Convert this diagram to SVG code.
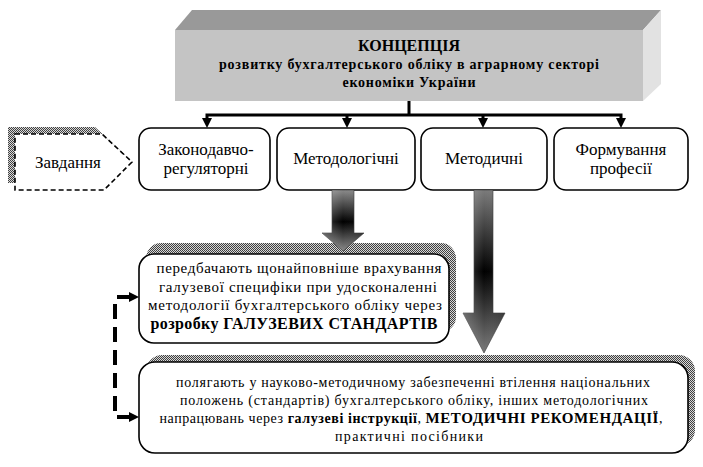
<svg xmlns="http://www.w3.org/2000/svg" width="703" height="467" viewBox="0 0 703 467">
<style>
text{font-family:'Liberation Serif','DejaVu Serif','Times New Roman',serif;fill:#000;text-anchor:middle}
.b{font-weight:bold}
.box{fill:#fff;stroke:#000;stroke-width:1.6}
.lbl{font-size:17px}
.t5{font-size:15px}
.t6{font-size:14px}
.conn{fill:none;stroke:#000;stroke-width:3}
.ah{fill:#000}
</style>
<defs>
<pattern id="hatch" patternUnits="userSpaceOnUse" width="2" height="2">
<rect width="2" height="2" fill="#d8d8d8"/>
<rect width="1" height="1" fill="#404040"/>
<rect x="1" y="1" width="1" height="1" fill="#404040"/>
</pattern>
<linearGradient id="g1" gradientUnits="userSpaceOnUse" x1="0" y1="190" x2="0" y2="251">
<stop offset="0" stop-color="#8a8a8a"/>
<stop offset="0.52" stop-color="#000"/>
<stop offset="1" stop-color="#8a8a8a"/>
</linearGradient>
<linearGradient id="g2" gradientUnits="userSpaceOnUse" x1="0" y1="190" x2="0" y2="353">
<stop offset="0" stop-color="#7a7a7a"/>
<stop offset="0.5" stop-color="#000"/>
<stop offset="1" stop-color="#7a7a7a"/>
</linearGradient>
<linearGradient id="gs" x1="0" y1="0" x2="1" y2="0">
<stop offset="0" stop-color="#fff" stop-opacity="0.25"/>
<stop offset="0.5" stop-color="#fff" stop-opacity="0"/>
<stop offset="1" stop-color="#000" stop-opacity="0.1"/>
</linearGradient>
</defs>

<g id="concept">
<polygon points="175,30 192,10 661,10 643,30" fill="#999999"/>
<polygon points="643,30 661,10 661,84 643,101" fill="#e2e2e2"/>
<rect x="175" y="30" width="468" height="71" fill="#c4c4c4"/>
<text x="409" y="51" class="b" font-size="16">КОНЦЕПЦІЯ</text>
<text x="409" y="69" class="b" font-size="14" textLength="380" lengthAdjust="spacing">розвитку бухгалтерського обліку в аграрному секторі</text>
<text x="409" y="87" class="b" font-size="14" textLength="133" lengthAdjust="spacing">економіки України</text>
</g>

<g id="zavdannya">
<polygon points="8,127 95,127 125,155 97,183 8,183" fill="url(#hatch)"/>
<polygon points="15,134 102,134 132,162 104,190 15,190" fill="#fff" stroke="#000" stroke-width="1.6" stroke-dasharray="5,3"/>
<text x="68" y="168" class="lbl">Завдання</text>
</g>

<g id="n1">
<rect x="139" y="128" width="131" height="62" rx="12" class="box"/>
<text x="206" y="155" class="lbl">Законодавчо-</text>
<text x="206" y="174" class="lbl">регуляторні</text>
</g>
<g id="n2">
<rect x="277" y="128" width="138" height="62" rx="12" class="box"/>
<text x="346" y="164" class="lbl">Методологічні</text>
</g>
<g id="n3">
<rect x="421" y="128" width="126" height="62" rx="12" class="box"/>
<text x="484" y="164" class="lbl">Методичні</text>
</g>
<g id="n4">
<rect x="554" y="128" width="134" height="62" rx="12" class="box"/>
<text x="621" y="155" class="lbl">Формування</text>
<text x="621" y="174" class="lbl">професії</text>
</g>

<g id="n5">
<rect x="146" y="243" width="310" height="89" rx="15" fill="url(#hatch)"/>
<rect x="139" y="254" width="310" height="89" rx="15" class="box"/>
<text x="299" y="273" class="t5" textLength="285" lengthAdjust="spacing">передбачають щонайповніше врахування</text>
<text x="298" y="292" class="t5" textLength="278" lengthAdjust="spacing">галузевої специфіки при удосконаленні</text>
<text x="295" y="310" class="t5" textLength="294" lengthAdjust="spacing">методології бухгалтерського обліку через</text>
<text x="294" y="329" class="b" font-size="16" textLength="287" lengthAdjust="spacing">розробку ГАЛУЗЕВИХ СТАНДАРТІВ</text>
</g>

<g id="n6">
<rect x="146" y="355" width="549" height="91" rx="16" fill="url(#hatch)"/>
<rect x="139" y="362" width="549" height="91" rx="16" class="box"/>
<text x="413" y="387" class="t6" textLength="474" lengthAdjust="spacing">полягають у науково-методичному забезпеченні втілення національних</text>
<text x="414" y="405" class="t6" textLength="468" lengthAdjust="spacing">положень (стандартів) бухгалтерського обліку, інших методологічних</text>
<text x="411" y="423" class="t6" textLength="503" lengthAdjust="spacing">напрацювань через <tspan class="b">галузеві інструкції</tspan>, <tspan class="b" font-size="15">МЕТОДИЧНІ РЕКОМЕНДАЦІЇ</tspan>,</text>
<text x="409" y="441" class="t6" textLength="148" lengthAdjust="spacing">практичні посібники</text>
</g>

<g id="connectors">
<path class="conn" d="M409,101 V115 M205.5,115 H622.5 M207,115 V120 M347,115 V120 M483,115 V120 M621,115 V120"/>
<polygon class="ah" points="202,118 212,118 207,128"/>
<polygon class="ah" points="342,118 352,118 347,128"/>
<polygon class="ah" points="478,118 488,118 483,128"/>
<polygon class="ah" points="616,118 626,118 621,128"/>

<polygon points="332,190 354,190 354,233 364,233 343,251 322,233 332,233" fill="url(#g1)" stroke="#3a3a3a" stroke-width="0.6"/>
<polygon points="332,190 354,190 354,233 364,233 343,251 322,233 332,233" fill="url(#gs)"/>
<polygon points="474,190 493,190 493,313 505,313 484,353 463,313 474,313" fill="url(#g2)" stroke="#3a3a3a" stroke-width="0.6"/>
<polygon points="474,190 493,190 493,313 505,313 484,353 463,313 474,313" fill="url(#gs)"/>

<path d="M115,304 V414" fill="none" stroke="#000" stroke-width="4" stroke-dasharray="15,8"/>
<path d="M117,297 H131 M117,417 H131" fill="none" stroke="#000" stroke-width="4"/>
<polygon class="ah" points="129,292 139,297 129,302"/>
<polygon class="ah" points="129,412 139,417 129,422"/>
</g>
</svg>
